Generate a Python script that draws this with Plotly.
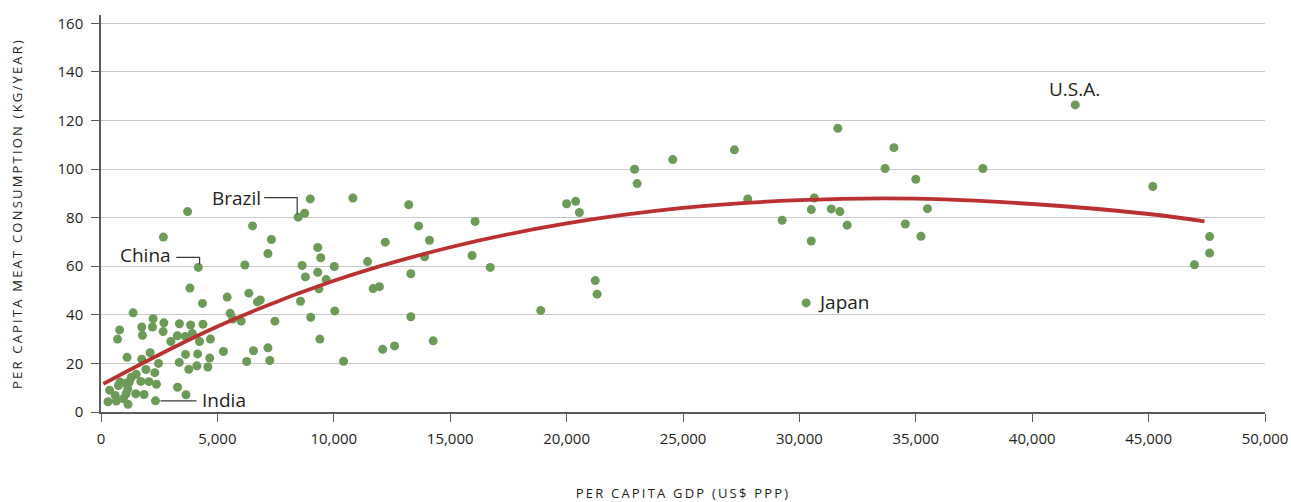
import plotly.graph_objects as go

# Per-capita GDP (US$ PPP) and per-capita meat consumption (kg/year), unlabelled countries
gdp = [
    3720, 2680, 3820, 4360, 5420, 1380, 2240, 800, 710, 1750, 2210, 1780, 2700, 2670,
    3370, 3850, 4380, 3000, 3280, 3620, 3920, 4230, 4700,
    1120, 1750, 2110, 2470, 3360, 3630, 4150, 4670, 5260, 3770, 4120, 4590, 1930, 1510,
    2310, 1300, 1220, 1710, 2060, 2380, 3290, 3650, 370, 750, 1080, 1150, 610, 1080,
    1490, 1850, 300, 660, 960, 1160, 820,
    5550, 5660, 6020, 6350, 6720, 6840, 7470, 6180, 6510, 7320, 7170, 6550, 7170, 7250,
    6260, 8750, 8990, 8640, 8780, 9310, 9440, 9310, 9670, 9360, 10020, 8570, 9010,
    10040, 9400, 10420, 10820, 11450, 11690, 11960, 12210, 12100, 12610, 13220, 13640,
    14110, 13900, 13310, 13310, 14270,
    16070, 15940, 16720, 18890, 20000, 20390, 20550, 21230, 21310, 22920, 23030, 24560,
    27210, 27780, 29260, 30510, 30510, 30640, 31370, 31740, 32050, 31650, 34060, 33680,
    35000, 34550, 35220, 35500, 37880, 45180, 47620, 47620, 46970,
]
meat = [
    82.5, 72.0, 51.0, 44.7, 47.3, 40.8, 38.4, 33.8, 30.0, 35.0, 35.0, 31.6, 36.7, 33.1,
    36.3, 35.8, 36.1, 29.0, 31.4, 31.1, 32.3, 29.0, 30.0,
    22.5, 21.7, 24.4, 20.0, 20.4, 23.7, 23.9, 22.2, 24.9, 17.6, 19.0, 18.5, 17.5, 15.5,
    16.2, 14.3, 12.3, 12.6, 12.5, 11.4, 10.2, 7.1, 9.0, 10.9, 11.9, 9.5, 6.8, 7.5,
    7.5, 7.2, 4.2, 4.5, 5.5, 3.2, 12.3,
    40.6, 38.3, 37.4, 48.9, 45.3, 46.1, 37.4, 60.5, 76.6, 71.0, 65.2, 25.2, 26.4, 21.2,
    20.8, 81.8, 87.7, 60.3, 55.6, 67.7, 63.5, 57.5, 54.5, 50.7, 59.9, 45.6, 39.0,
    41.6, 30.0, 20.9, 88.1, 61.9, 50.8, 51.6, 69.9, 25.8, 27.2, 85.3, 76.6,
    70.7, 63.9, 56.9, 39.2, 29.3,
    78.4, 64.4, 59.5, 41.8, 85.7, 86.7, 82.1, 54.1, 48.5, 99.9, 94.0, 103.9,
    107.9, 87.7, 78.9, 83.3, 70.4, 88.1, 83.6, 82.5, 76.9, 116.8, 108.8, 100.2,
    95.8, 77.4, 72.3, 83.7, 100.2, 92.8, 72.2, 65.4, 60.6,
]

# Named countries
labeled_names = ["U.S.A.", "Japan", "Brazil", "China", "India"]
labeled_gdp = [41850, 30290, 8470, 4180, 2340]
labeled_meat = [126.4, 44.9, 80.2, 59.5, 4.6]

# Trend curve sampled along GDP
trend_gdp = [100, 5000, 10000, 15000, 20000, 25000, 30000, 35000, 40000, 45000, 47400]
trend_meat = [11.6, 35.2, 54.0, 67.8, 77.6, 84.0, 87.2, 87.8, 85.6, 81.5, 78.5]

x_ticks = list(range(0, 50001, 5000))
y_ticks = list(range(0, 161, 20))

FONT = "Open Sans"
INK = "#231f20"
AXIS = "#58595b"
GREEN = "#6b9b56"
RED = "#bb3131"

fig = go.Figure()

fig.add_trace(go.Scatter(
    x=gdp + labeled_gdp, y=meat + labeled_meat, mode="markers",
    marker=dict(size=9, color=GREEN, line=dict(width=0)),
    hoverinfo="skip", showlegend=False,
))

fig.add_trace(go.Scatter(
    x=trend_gdp, y=trend_meat, mode="lines",
    line=dict(color=RED, width=3.8, shape="spline", smoothing=1.0),
    hoverinfo="skip", showlegend=False,
))

# Label placement (pixel offsets from each named point) and elbow leader lines
label_style = {
    "U.S.A.": dict(xanchor="center", xshift=-1, yshift=16),
    "Japan": dict(xanchor="left", xshift=10, yshift=1),
    "Brazil": dict(xanchor="right", xshift=-35, yshift=19),
    "China": dict(xanchor="right", xshift=-25, yshift=12),
    "India": dict(xanchor="left", xshift=45, yshift=1),
}
leader_paths = {
    "Brazil": "M -1,3 L -1,19.5 L -34,19.5",
    "China": "M 1.3,3 L 1.3,10 L -22,10",
    "India": "M 5,0 L 41,0",
}

for name, gx, my in zip(labeled_names, labeled_gdp, labeled_meat):
    st = label_style[name]
    fig.add_annotation(
        x=gx, y=my, xref="x", yref="y", text=name, showarrow=False,
        xanchor=st["xanchor"], yanchor="middle",
        xshift=st["xshift"], yshift=st["yshift"],
        font=dict(family=FONT, size=19, color=INK),
    )
    if name in leader_paths:
        fig.add_shape(
            type="path", xref="x", yref="y",
            xsizemode="pixel", ysizemode="pixel", xanchor=gx, yanchor=my,
            path=leader_paths[name],
            line=dict(color="#3a3a3a", width=1.2),
        )

fig.update_layout(
    width=1291, height=502,
    margin=dict(l=101, r=26, t=15, b=90, autoexpand=False),
    paper_bgcolor="white", plot_bgcolor="white",
    font=dict(family=FONT, color=INK),
)

fig.update_xaxes(
    range=[0, 50000], tickvals=x_ticks, tickformat=",",
    showgrid=False, zeroline=False,
    showline=True, linecolor=AXIS, linewidth=1.5,
    ticks="outside", ticklen=8, tickcolor=AXIS, tickwidth=1.2,
    tickfont=dict(family=FONT, size=15, color=INK), ticklabelstandoff=4,
    title=dict(text="PER CAPITA GDP (US$ PPP)", standoff=42,
               font=dict(family=FONT, size=13, color=INK)),
    automargin=False,
)
fig.update_yaxes(
    range=[0, 163.4], tickvals=y_ticks,
    showgrid=True, gridcolor="#c8c8c8", gridwidth=1, zeroline=False,
    showline=True, linecolor=AXIS, linewidth=1.5,
    ticks="outside", ticklen=8, tickcolor=AXIS, tickwidth=1.2,
    tickfont=dict(family=FONT, size=15, color=INK), ticklabelstandoff=5,
    title=dict(text="PER CAPITA MEAT CONSUMPTION (KG/YEAR)", standoff=32,
               font=dict(family=FONT, size=13, color=INK)),
    automargin=False,
)

spacing_js = (
    "document.querySelectorAll('.g-xtitle text, .g-ytitle text')"
    ".forEach(function(t){t.style.letterSpacing='2.2px';});"
)

fig.write_html("out.html", post_script=spacing_js)
